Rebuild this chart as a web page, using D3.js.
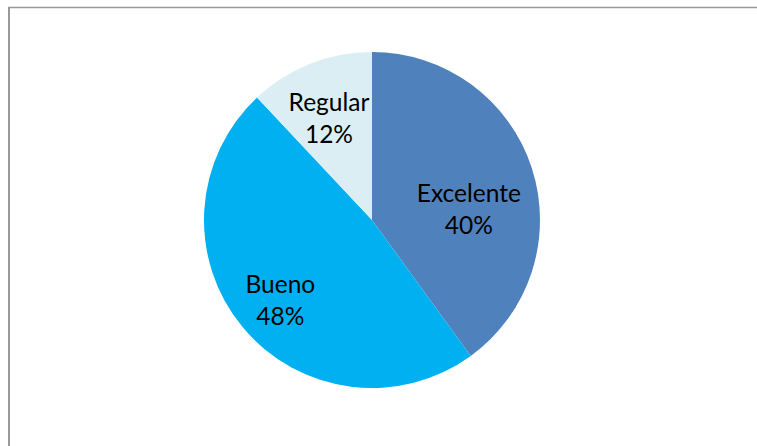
<!DOCTYPE html>
<html>
<head>
<meta charset="utf-8">
<script src="https://cdn.jsdelivr.net/npm/d3@7"></script>
<style>
  body { margin: 0; background: #fff; }
  svg { display: block; }
  .lbl { font-family: Lato, "Open Sans", sans-serif; font-size: 24.5px; fill: #000; }
</style>
</head>
<body>
<div id="chart"></div>
<script>
// chart data
var categories = ['Excelente', 'Bueno', 'Regular'];
var values = [40, 48, 12];
var colors = ['#4F81BD', '#00B0F0', '#DAEEF3'];

// label nudges (px) from the label arc centroid, Excel-style best fit
var labelNudge = [[-4, 23], [-10, 13], [-4, -2]];

var width = 757, height = 446;
var cx = 372, cy = 220, radius = 168;

var svg = d3.select('#chart').append('svg')
    .attr('width', width)
    .attr('height', height);

// plot area frame (only top and left edges visible)
svg.append('line')
    .attr('x1', 8).attr('y1', 7.5).attr('x2', width).attr('y2', 7.5)
    .attr('stroke', '#999').attr('stroke-width', 1.5);
svg.append('line')
    .attr('x1', 9).attr('y1', 7).attr('x2', 9).attr('y2', height)
    .attr('stroke', '#999').attr('stroke-width', 2);

var data = categories.map(function(c, i) {
    return { name: c, value: values[i], color: colors[i] };
});

var pie = d3.pie()
    .sort(null)
    .value(function(d) { return d.value; });

var arc = d3.arc().innerRadius(0).outerRadius(radius);
var labelArc = d3.arc().innerRadius(106).outerRadius(106);

var total = d3.sum(values);
var g = svg.append('g').attr('transform', 'translate(' + cx + ',' + cy + ')');

var slices = g.selectAll('.slice')
    .data(pie(data))
    .enter().append('g')
    .attr('class', 'slice');

slices.append('path')
    .attr('d', arc)
    .attr('fill', function(d) { return d.data.color; });

var labels = slices.append('text')
    .attr('class', 'lbl')
    .attr('text-anchor', 'middle')
    .attr('transform', function(d, i) {
        let c = labelArc.centroid(d);
        return 'translate(' + (c[0] + labelNudge[i][0]) + ',' + (c[1] + labelNudge[i][1]) + ')';
    });

labels.append('tspan')
    .attr('x', 0).attr('y', -8)
    .text(function(d) { return d.data.name; });
labels.append('tspan')
    .attr('x', 0).attr('y', 24)
    .text(function(d) { return Math.round(d.data.value / total * 100) + '%'; });
</script>
</body>
</html>
